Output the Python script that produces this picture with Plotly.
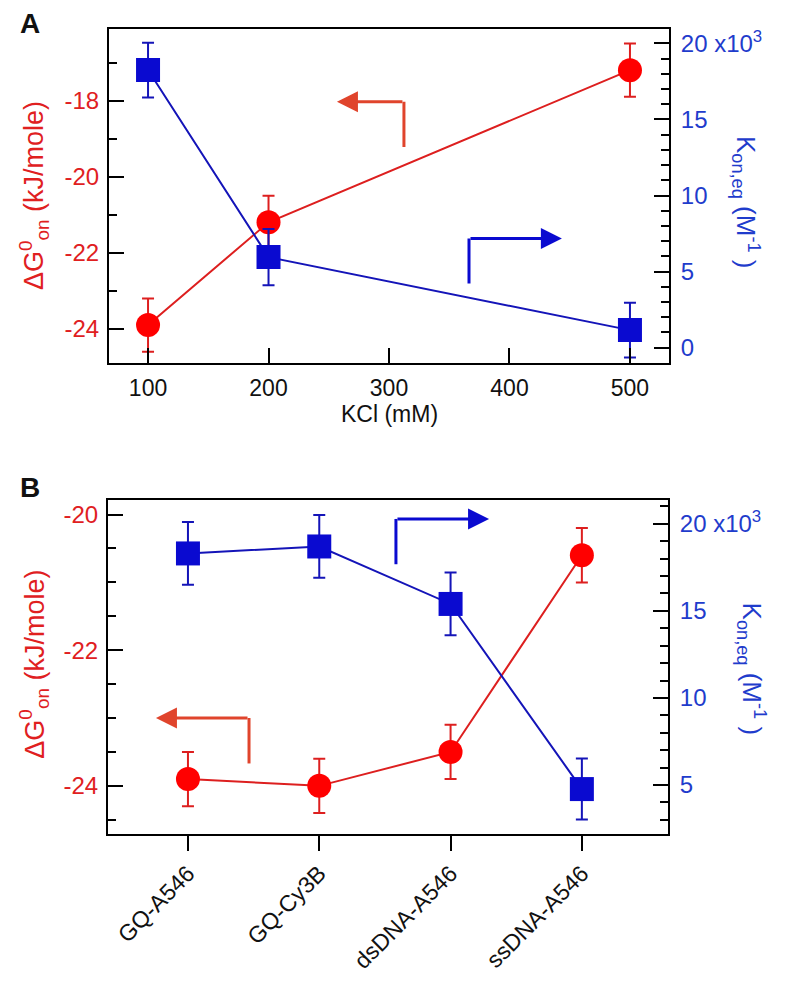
import plotly.graph_objects as go

# ---------------- data ----------------
kcl_mM = [100, 200, 500]
dG_kcl = [-23.9, -21.2, -17.2]
dG_kcl_err = [0.7, 0.7, 0.7]
Kon_kcl = [18.25, 5.95, 1.15]          # x10^3 M^-1
Kon_kcl_err = [1.8, 1.85, 1.8]

constructs = ["GQ-A546", "GQ-Cy3B", "dsDNA-A546", "ssDNA-A546"]
dG_con = [-23.9, -24.0, -23.5, -20.6]
dG_con_err = [0.4, 0.4, 0.4, 0.4]
Kon_con = [18.3, 18.7, 15.4, 4.77]    # x10^3 M^-1
Kon_con_err = [1.8, 1.8, 1.8, 1.75]

kcl_ticks = [100, 200, 300, 400, 500]
dgA_ticks = [-24, -22, -20, -18]
konA_ticks = [0, 5, 10, 15, 20]
dgB_ticks = [-24, -22, -20]
konB_ticks = [5, 10, 15, 20]

RED = "#ff0000"
RED_LINE = "#dd1f1f"
RED_TXT = "#e0201f"
ARROW_RED = "#e0442c"
BLUE = "#0a0ad0"
BLUE_LINE = "#1414b8"
BLUE_TXT = "#1f3ccc"
FONT = "Liberation Sans, Arial, sans-serif"

# page has an 8px body margin; the figure is sized to fit inside the window
OFF = 8
W, H = 786 - 2 * OFF, 982 - 2 * OFF
def px(x): return (x - OFF) / W
def py(y): return 1 - (y - OFF) / H

fig = go.Figure()

# Panel A
fig.add_trace(go.Scatter(x=kcl_mM, y=dG_kcl, mode="lines+markers", xaxis="x", yaxis="y",
    line=dict(color=RED_LINE, width=2), marker=dict(symbol="circle", size=24, color=RED),
    error_y=dict(type="data", array=dG_kcl_err, color=RED_LINE, thickness=2, width=6),
    showlegend=False))
fig.add_trace(go.Scatter(x=kcl_mM, y=Kon_kcl, mode="lines+markers", xaxis="x", yaxis="y2",
    line=dict(color=BLUE_LINE, width=2), marker=dict(symbol="square", size=24, color=BLUE),
    error_y=dict(type="data", array=Kon_kcl_err, color=BLUE_LINE, thickness=2, width=6),
    showlegend=False))

# Panel B
fig.add_trace(go.Scatter(x=constructs, y=dG_con, mode="lines+markers", xaxis="x2", yaxis="y3",
    line=dict(color=RED_LINE, width=2), marker=dict(symbol="circle", size=24, color=RED),
    error_y=dict(type="data", array=dG_con_err, color=RED_LINE, thickness=2, width=6),
    showlegend=False))
fig.add_trace(go.Scatter(x=constructs, y=Kon_con, mode="lines+markers", xaxis="x2", yaxis="y4",
    line=dict(color=BLUE_LINE, width=2), marker=dict(symbol="square", size=24, color=BLUE),
    error_y=dict(type="data", array=Kon_con_err, color=BLUE_LINE, thickness=2, width=6),
    showlegend=False))

TICK_SIZE = 24
common = dict(showline=True, linecolor="black", linewidth=2, showgrid=False, zeroline=False,
              tickcolor="black", tickwidth=2, ticklen=15)
minor_in = lambda d: dict(ticks="inside", dtick=d, ticklen=8, tickcolor="black", tickwidth=2)

A_dom_x = [px(109), px(669)]
A_dom_y = [py(367), py(27)]
B_dom_x = [px(108), px(668)]
B_dom_y = [py(845), py(505.7)]

fig.update_layout(
    width=W, height=H, margin=dict(l=0, r=0, t=0, b=0),
    paper_bgcolor="white", plot_bgcolor="white",
    font=dict(family=FONT),
    xaxis=dict(**common, domain=A_dom_x, anchor="y", range=[67.6, 532.4], ticks="inside",
               tickvals=kcl_ticks, mirror=True,
               tickfont=dict(family=FONT, size=23, color="#111111"),
               ticklabelstandoff=3),
    yaxis=dict(**common, domain=A_dom_y, anchor="x", range=[-24.91, -16.11], ticks="inside",
               tickvals=dgA_ticks, ticktext=[str(v) for v in dgA_ticks],
               tickfont=dict(family=FONT, size=TICK_SIZE, color=RED_TXT), ticklabelstandoff=3,
               minor=minor_in(1)),
    yaxis2=dict(**common, overlaying="y", anchor="x", side="right", range=[-1.04, 20.97],
                ticks="inside", tickvals=konA_ticks,
                ticktext=["0", "5", "10", "15", "20 x10<sup>3</sup>"],
                tickfont=dict(family=FONT, size=TICK_SIZE, color=BLUE_TXT), ticklabelstandoff=5,
                minor=minor_in(1)),
    xaxis2=dict(**common, domain=B_dom_x, anchor="y3", range=[-0.609, 3.656], ticks="outside",
                type="category", mirror=True, tickangle=-45,
                tickfont=dict(family=FONT, size=23, color="#111111")),
    yaxis3=dict(**common, domain=B_dom_y, anchor="x2", range=[-24.71, -19.785], ticks="inside",
                tickvals=dgB_ticks, ticktext=[str(v) for v in dgB_ticks],
                tickfont=dict(family=FONT, size=TICK_SIZE, color=RED_TXT), ticklabelstandoff=3,
                minor=minor_in(0.5)),
    yaxis4=dict(**common, overlaying="y3", anchor="x2", side="right", range=[2.19, 21.37],
                ticks="inside", tickvals=konB_ticks,
                ticktext=["5", "10", "15", "20 x10<sup>3</sup>"],
                tickfont=dict(family=FONT, size=TICK_SIZE, color=BLUE_TXT), ticklabelstandoff=5,
                minor=minor_in(1)),
)

ann = []
def title(text, x, y, color, angle=0, size=27):
    ann.append(dict(text=text, x=px(x), y=py(y), xref="paper", yref="paper", showarrow=False,
                    textangle=angle, xanchor="center", yanchor="middle", borderpad=0,
                    font=dict(family=FONT, size=size, color=color)))

dG_title = "ΔG<sup>0</sup><sub>on</sub> (kJ/mole)"
K_title = "K<sub>on,eq</sub> (M<sup>-1</sup> )"
title(dG_title, 34, 197, RED_TXT, -90)
title(K_title, 746, 203, BLUE_TXT, 90, 26)
title("KCl (mM)", 389, 418, "#111111", 0, 23)
title(dG_title, 34, 673, RED_TXT, -90)
title(K_title, 752, 677, BLUE_TXT, 90, 26)
title("<b>A</b>", 30, 22, "#111111", 0, 28)
title("<b>B</b>", 30, 493, "#111111", 0, 28)

# direction arrows (horizontal part with head, vertical leg as a shape)
def arrow(xref, yref, x_tip, x_corner, y_h, y_end, color):
    ann.append(dict(x=x_tip, y=y_h, ax=x_corner, ay=y_h, xref=xref, yref=yref,
                    axref=xref, ayref=yref, text="", showarrow=True, arrowhead=2,
                    arrowsize=1.4, arrowwidth=3, arrowcolor=color))
    fig.add_shape(type="line", xref=xref, yref=yref, x0=x_corner, x1=x_corner,
                  y0=y_h, y1=y_end, line=dict(color=color, width=3))

arrow("x", "y", 256.8, 312.4, -18.03, -19.22, ARROW_RED)
arrow("x", "y2", 443.5, 366.4, 7.18, 4.21, BLUE)
arrow("x2", "y3", -0.244, 0.465, -23.0, -23.67, ARROW_RED)
arrow("x2", "y4", 2.293, 1.584, 20.28, 17.68, BLUE)

fig.update_layout(annotations=ann)
fig.write_html("out.html")
